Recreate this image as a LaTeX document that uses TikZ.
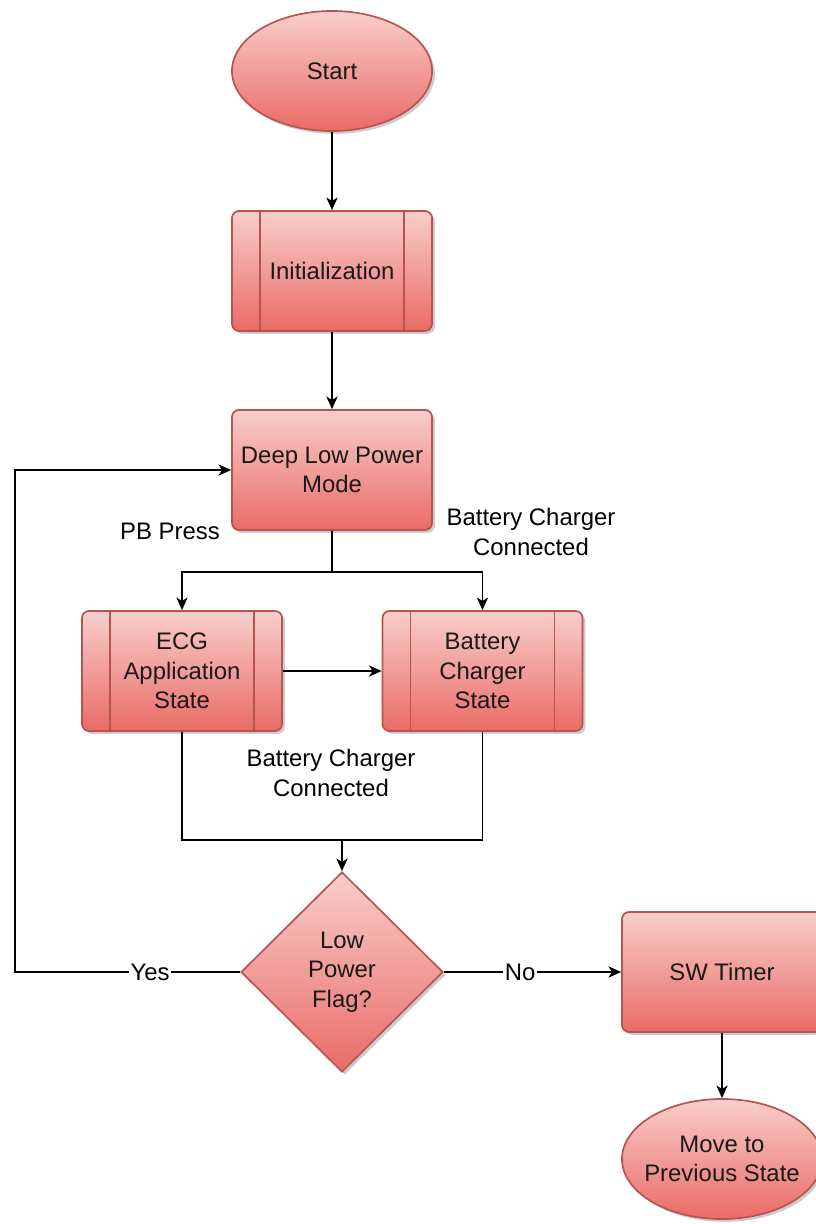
\documentclass[tikz,border=0pt]{standalone}
\usepackage{fontspec}
\setmainfont{Liberation Sans}
\usetikzlibrary{shapes.geometric,shadows,arrows.meta}

\definecolor{boxtop}{HTML}{F8CECC}
\definecolor{boxbottom}{HTML}{EA6B66}
\definecolor{boxline}{HTML}{B85450}

\begin{document}
\begin{tikzpicture}[x=0.025cm, y=-0.025cm,
  every node/.style={font=\fontsize{17}{21}\selectfont, align=center},
  redbox/.style={draw=boxline, line width=1.2pt, text=black!90,
    top color=boxtop, bottom color=boxbottom,
    drop shadow={shadow xshift=2pt, shadow yshift=-2pt, opacity=0.2, fill=black}},
  procbox/.style={redbox, rectangle, rounded corners=5pt,
    minimum width=5cm, minimum height=3cm},
  termbox/.style={redbox, ellipse, minimum width=5cm, minimum height=3cm},
  decbox/.style={redbox, diamond, inner sep=0pt,
    minimum width=5.05cm, minimum height=5cm},
  flow/.style={line width=1pt, black}]
  \tikzset{>={Stealth[length=9pt, width=8pt, inset=2.5pt]}}
  \useasboundingbox (0,0) rectangle (816,1224);
  %
  \node [termbox] (start)   at (332,71)    {Start};
  \node [procbox] (init)    at (332,271)   {Initialization};
  \node [procbox] (deep)    at (332,470)   {Deep Low Power\\Mode};
  \node [procbox] (ecg)     at (182,671)   {ECG\\Application\\State};
  \node [procbox] (charger) at (482.5,671) {Battery\\Charger\\State};
  \node [decbox]  (flag)    at (342,972)   {Low\\Power\\Flag?};
  \node [procbox] (timer)   at (722,972)   {SW Timer};
  \node [termbox, inner xsep=-6pt] (prev) at (722,1159) {Move to\\Previous State};
  %
  % side bars of the sub-process boxes
  \foreach \b in {init,ecg,charger} {
    \draw [draw=boxline, line width=1.2pt]
      ([xshift=0.72cm]\b.north west) -- ([xshift=0.72cm]\b.south west);
    \draw [draw=boxline, line width=1.2pt]
      ([xshift=-0.72cm]\b.north east) -- ([xshift=-0.72cm]\b.south east);
  }
  %
  \coordinate (split) at (332,572);
  \coordinate (join)  at (342,840);
  \coordinate (loop)  at (15,972);
  %
  \draw [flow, ->] (start) -- (init);
  \draw [flow, ->] (init) -- (deep);
  \draw [flow] (deep) -- (split);
  \draw [flow, ->] (split) -| (ecg);
  \draw [flow, ->] (split) -| (charger);
  \draw [flow, ->] (ecg) -- (charger);
  \draw [flow] (ecg) |- (join);
  \draw [flow] (charger) |- (join);
  \draw [flow, ->] (join) -- (flag);
  \draw [flow, ->] (flag) -- node [pos=0.4, fill=white, inner sep=1pt] (yes) {Yes}
    (loop) |- (deep);
  \draw [flow, ->] (flag) -- node [pos=0.43, fill=white, inner sep=1pt] (no) {No}
    (timer);
  \draw [flow, ->] (timer) -- (prev);
  %
  \node (pbpress)  at (170,531) {PB Press};
  \node (chgconn)  at (531,532) {Battery Charger\\Connected};
  \node (chgconn2) at (331,773) {Battery Charger\\Connected};
\end{tikzpicture}
\end{document}
